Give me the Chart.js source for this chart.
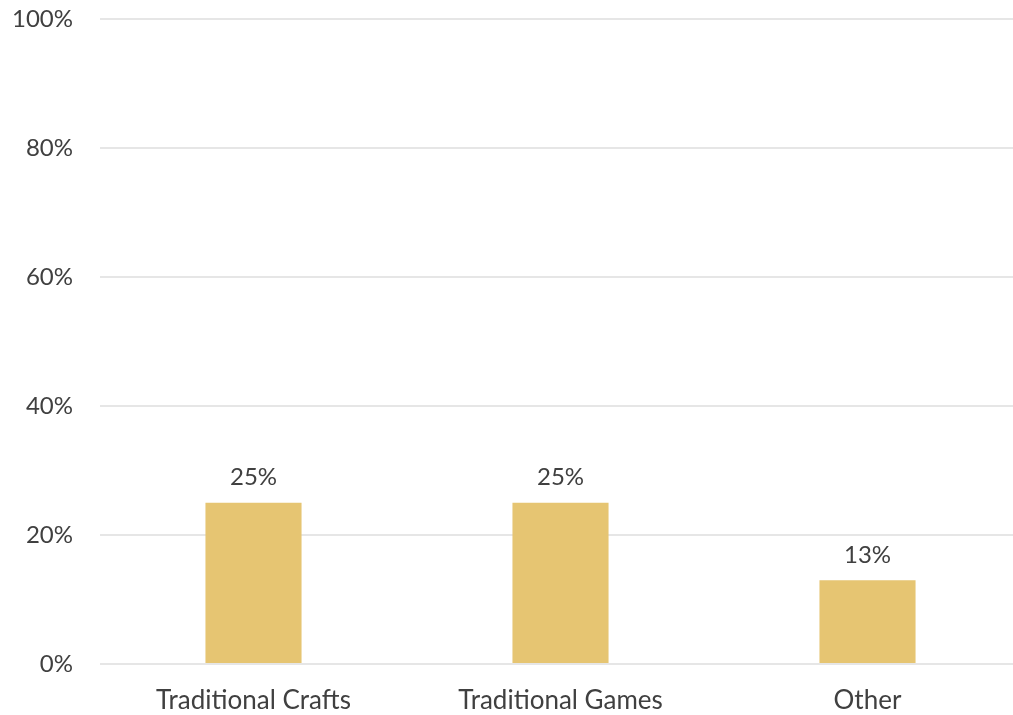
<!DOCTYPE html>
<html>
<head>
<meta charset="utf-8">
<script src="https://cdn.jsdelivr.net/npm/chart.js@4"></script>
<style>
  html, body { margin: 0; padding: 0; background: #fff; overflow: hidden; }
  #wrap { width: 1013px; height: 715px; overflow: hidden; }
</style>
</head>
<body>
<div id="wrap"><canvas id="mychart" width="1021" height="715"></canvas></div>
<script>
const labels = ['Traditional Crafts', 'Traditional Games', 'Other'];
const values = [25, 25, 13];
const yTicks = [0, 20, 40, 60, 80, 100];

const FONT = "Lato, 'Open Sans', sans-serif";
const TEXT = '#404040';

// labels above the bars (no datalabels plugin offline)
const barLabels = {
    id: 'barLabels',
    afterDatasetsDraw(chart) {
        const ctx = chart.ctx;
        const meta = chart.getDatasetMeta(0);
        ctx.save();
        ctx.font = '24px ' + FONT;
        ctx.fillStyle = TEXT;
        ctx.textAlign = 'center';
        ctx.textBaseline = 'bottom';
        meta.data.forEach((bar, i) => {
            ctx.fillText(values[i] + '%', bar.x, bar.y - 13);
        });
        ctx.restore();
    }
};

const ctx = document.getElementById('mychart');
new Chart(ctx, {
    type: 'bar',
    data: {
        labels: labels,
        datasets: [{
            data: values,
            backgroundColor: '#E6C572',
            categoryPercentage: 1,
            barPercentage: 0.313,
        }],
    },
    plugins: [barLabels],
    options: {
        responsive: false,
        animation: false,
        layout: { padding: { top: 19, right: 0, bottom: 0, left: 0 } },
        scales: {
            x: {
                grid: { display: false, drawTicks: false },
                border: { display: false },
                ticks: {
                    color: TEXT,
                    padding: 21,
                    font: { family: FONT, size: 26 },
                },
                afterFit: (axis) => { axis.height = 51; }
            },
            y: {
                min: 0,
                max: 100,
                afterBuildTicks: (axis) => { axis.ticks = yTicks.map(v => ({ value: v })); },
                grid: { color: '#E6E6E6', lineWidth: 2, drawTicks: false },
                border: { display: false },
                ticks: {
                    color: TEXT,
                    padding: 27,
                    font: { family: FONT, size: 24 },
                    callback: (v) => v + '%'
                },
                afterFit: (axis) => {
                    axis.width = 100;
                    axis.paddingTop = 0;
                    axis.paddingBottom = 0;
                }
            }
        },
        plugins: {
            legend: { display: false },
            tooltip: { enabled: false }
        }
    }
});
</script>
</body>
</html>
